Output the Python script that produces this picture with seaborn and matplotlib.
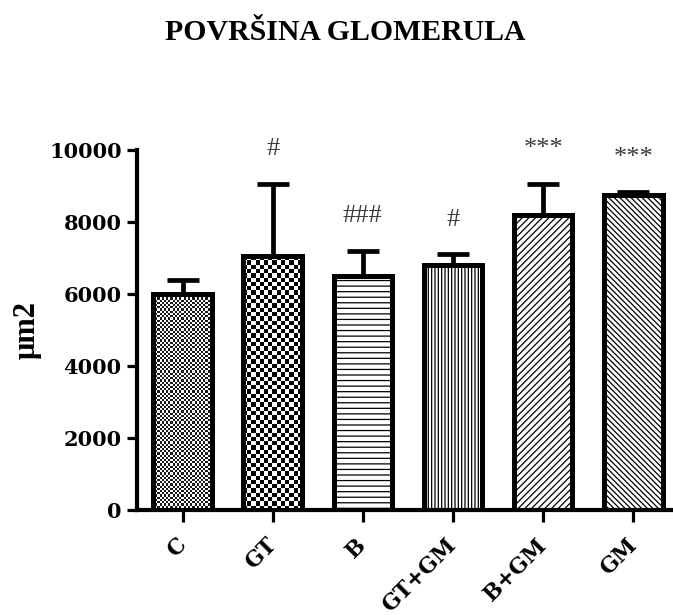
import numpy as np
import pandas as pd
import matplotlib
matplotlib.use("Agg")
import matplotlib.pyplot as plt
from matplotlib.colors import ListedColormap
import seaborn as sns

# ---- data ----
groups = ["C", "GT", "B", "GT+GM", "B+GM", "GM"]
area_mean = [6000, 7050, 6500, 6800, 8200, 8750]
area_err = [400, 2000, 700, 300, 850, 70]
signif = ["", "#", "###", "#", "***", "***"]
y_ticks = [0, 2000, 4000, 6000, 8000, 10000]

title = "POVRŠINA GLOMERULA"
y_label = "μm2"

sns.set_style("ticks")
plt.rcParams.update({
    "hatch.linewidth": 0.9,
    "text.color": "black",
    "axes.labelcolor": "black",
    "axes.edgecolor": "black",
    "xtick.color": "black",
    "ytick.color": "black",
})

fig = plt.figure(figsize=(6.73, 6.15), dpi=100)
ax = fig.add_axes([137 / 673, 105 / 615, 536 / 673, 360 / 615])

df = pd.DataFrame({"group": groups, "area": area_mean})
sns.barplot(data=df, x="group", y="area", color="white", saturation=1,
            edgecolor="black", linewidth=3.6, width=0.65, errorbar=None, ax=ax)

ax.set_xlim(-0.505, 5.44)
ax.set_ylim(0, 10000)
ax.set_yticks(y_ticks)

# fill styles for each bar
styles = [("checker", 2.2, "#1a1a1a"), ("checker", 4.3, "#000000"),
          ("hatch", "---", None), ("hatch", "|||||", None),
          ("hatch", "/////", None), ("hatch", "\\\\\\\\\\\\", None)]

bars = list(ax.patches)[:len(groups)]
for p, st in zip(bars, styles):
    p.set_zorder(2)
    if st[0] == "checker":
        p.set_facecolor("none")
        x0, y0, w, h = p.get_x(), p.get_y(), p.get_width(), p.get_height()
        (px0, py0) = ax.transData.transform((x0, y0))
        (px1, py1) = ax.transData.transform((x0 + w, y0 + h))
        nx = max(1, int(round((px1 - px0) / st[1])))
        ny = max(1, int(round((py1 - py0) / st[1])))
        arr = np.add.outer(np.arange(ny), np.arange(nx)) % 2
        ax.imshow(arr, extent=(x0, x0 + w, y0, y0 + h),
                  cmap=ListedColormap([st[2], "white"]),
                  interpolation="nearest", aspect="auto", zorder=1)
    else:
        p.set_facecolor("white")
        p.set_hatch(st[1])
        if hasattr(p, "set_hatch_linewidth"):
            p.set_hatch_linewidth(0.9)

ax.set_xlim(-0.505, 5.44)
ax.set_ylim(0, 10000)

xs = np.arange(len(groups))
ax.errorbar(xs, area_mean, yerr=[np.zeros(len(groups)), area_err],
            fmt="none", ecolor="black", elinewidth=3.4, capsize=11.5,
            capthick=3.4, zorder=3)

for x, m, e, s in zip(xs, area_mean, area_err, signif):
    if s:
        ax.annotate(s, xy=(x, m + e), xytext=(0, 25), textcoords="offset points",
                    ha="center", va="center", fontsize=19, color="#3a3a3a",
                    family="Liberation Serif", clip_on=False)

# axes styling
for side in ["top", "right"]:
    ax.spines[side].set_visible(False)
for side in ["left", "bottom"]:
    ax.spines[side].set_linewidth(3.0)
    ax.spines[side].set_color("black")
ax.tick_params(axis="y", length=7, width=2.3, pad=4, labelsize=15, colors="black")
ax.tick_params(axis="x", length=8.5, width=2.3, pad=14.5, labelsize=15.5, colors="black")
for lab in ax.get_yticklabels():
    lab.set_fontfamily("DejaVu Serif")
    lab.set_fontweight("bold")
for lab in ax.get_xticklabels():
    lab.set_fontfamily("DejaVu Serif")
    lab.set_fontweight("bold")
    lab.set_rotation(45)
    lab.set_ha("right")
    lab.set_va("center")
    lab.set_rotation_mode("anchor")

ax.set_xlabel("")
ax.set_ylabel(y_label, fontsize=22, fontweight="bold", family="Liberation Serif",
              color="black")
ax.yaxis.set_label_coords(-0.178, 0.5)

fig.text(0.513, 0.935, title, ha="center", va="baseline", fontsize=21.4,
         fontweight="bold", family="Liberation Serif", color="black")

fig.savefig("out.png", dpi=100)
